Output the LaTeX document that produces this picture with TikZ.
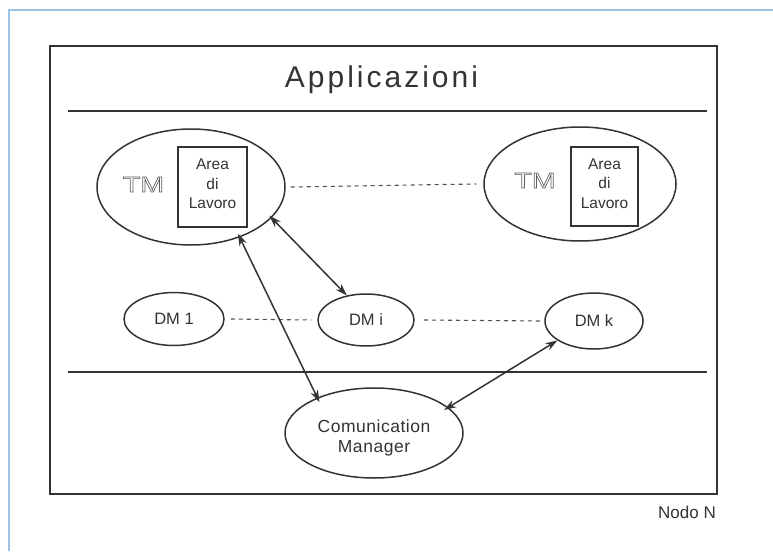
\documentclass[tikz,border=0pt]{standalone}
\usepackage{fontspec}
\setmainfont{Liberation Sans}
\usetikzlibrary{arrows.meta,shapes.geometric}
\definecolor{ink}{HTML}{333333}
\definecolor{frameblue}{HTML}{9CC2E6}
\newcommand\hollowtext[1]{\special{pdf:literal direct 1 Tr 0.7 w}#1\special{pdf:literal direct 0 Tr}}
\tikzset{
  ell/.style={draw=ink, ellipse, inner sep=0pt, line width=1.5pt},
  boxnode/.style={draw=ink, rectangle, inner sep=0pt, line width=1.5pt},
  sep/.style={draw=ink, line width=1.6pt},
  dotted link/.style={draw=ink!85, line width=1.1pt, dash pattern=on 4pt off 4pt},
  link/.style={draw=ink, line width=1.5pt, {Stealth[length=12pt,width=8pt]}-{Stealth[length=12pt,width=8pt]}},
  txt/.style={text=ink, inner sep=0pt, font=\fontsize{16.5}{19.5}\selectfont},
  smalltxt/.style={text=ink, inner sep=0pt, align=center, font=\fontsize{15.5}{19.5}\selectfont},
  tmtxt/.style={text=ink!80, inner sep=0pt, font=\fontsize{22}{26}\selectfont\addfontfeature{FakeStretch=1.3}},
}
\begin{document}
\begin{tikzpicture}[x=1pt,y=-1pt]
\useasboundingbox (0,0) rectangle (773,551);
% scan frame
\draw[frameblue, line width=1.2pt] (9,551) -- (9,10) -- (773,10);
% node frame
\draw[sep] (50,46) rectangle (717,494);
\coordinate (l1a) at (68,111); \coordinate (l1b) at (707,111);
\coordinate (l2a) at (68,372); \coordinate (l2b) at (707,372);
\draw[sep] (l1a) -- (l1b);
\draw[sep] (l2a) -- (l2b);
% title
\node[text=ink, inner sep=0pt, anchor=base, font=\fontsize{30}{36}\selectfont\addfontfeature{LetterSpace=10}] (title) at (381.5,87) {Applicazioni};
% TM left
\node[ell, minimum width=188pt, minimum height=116pt] (tmL) at (191,187) {};
\node[boxnode, minimum width=69pt, minimum height=80pt] (boxL) at (212.5,187) {};
\node[smalltxt] (areaL) at (212.5,184) {Area\\di\\Lavoro};
\node[tmtxt] (tmtL) at (143.5,184.5) {\hollowtext{TM}};
% TM right
\node[ell, minimum width=192pt, minimum height=114pt] (tmR) at (580,184) {};
\node[boxnode, minimum width=67pt, minimum height=79pt] (boxR) at (604.5,186.5) {};
\node[smalltxt] (areaR) at (604.5,183.5) {Area\\di\\Lavoro};
\node[tmtxt] (tmtR) at (535,180.5) {\hollowtext{TM}};
\draw[dotted link] ([xshift=5pt]tmL.east) -- ([xshift=-7pt]tmR.west);
% DMs
\node[ell, txt, minimum width=100pt, minimum height=53pt] (dm1) at (174,319) {DM 1};
\node[ell, txt, minimum width=96pt, minimum height=52pt] (dmi) at (366,320) {DM i};
\node[ell, txt, minimum width=98pt, minimum height=56pt] (dmk) at (594,321) {DM k};
\draw[dotted link] ([xshift=6pt]dm1.east) -- ([xshift=-6pt]dmi.west);
\draw[dotted link] ([xshift=9pt]dmi.east) -- ([xshift=-3pt]dmk.west);
% Communication manager
\node[ell, minimum width=178pt, minimum height=90pt] (cm) at (374,433) {};
\node[txt, align=center, font=\fontsize{17.5}{20}\selectfont\addfontfeature{LetterSpace=3}] (cmtxt) at (374,438) {Comunication\\Manager};
% connectors
\draw[link, shorten <=-3pt] (tmL.-21) -- (dmi.128);
\draw[link, shorten <=-4pt, shorten >=-5pt] (tmL.-46) -- (cm.148);
\draw[link, shorten >=-5pt] (dmk.208) -- (cm.19);
% label
\node[text=ink, inner sep=0pt, anchor=base east, font=\fontsize{17}{20}\selectfont] (nodo) at (716,518) {Nodo N};
\end{tikzpicture}
\end{document}
